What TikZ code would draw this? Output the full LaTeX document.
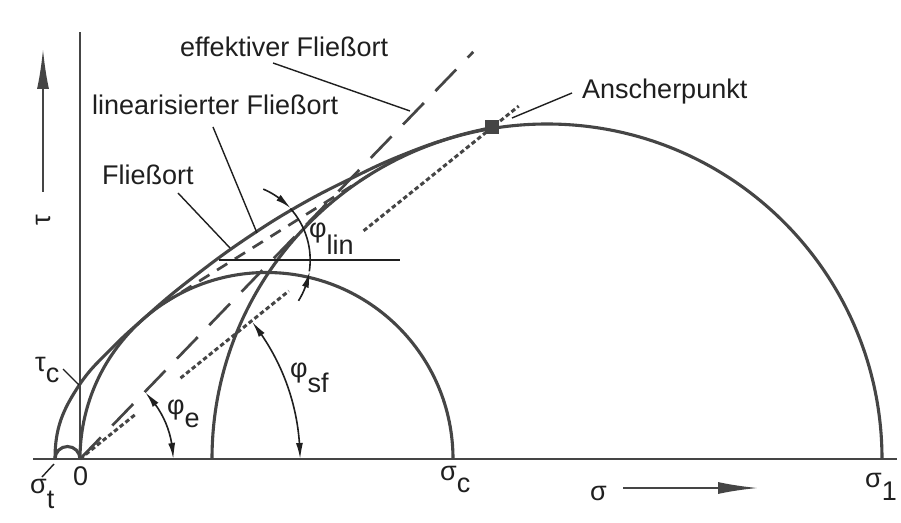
\documentclass[tikz,border=0pt]{standalone}
\usepackage{fontspec}
\setmainfont{Liberation Sans}
\usetikzlibrary{arrows.meta,bending}
\definecolor{ln}{gray}{0.27}
\definecolor{tx}{gray}{0.12}
\begin{document}
\begin{tikzpicture}[x=1pt,y=1pt,
  mainline/.style={draw=ln, line width=3.1pt},
  axisline/.style={draw=ln, line width=2.4pt},
  leader/.style={draw=tx, line width=1.4pt},
  dimarc/.style={draw=tx, line width=1.6pt},
  lbl/.style={inner sep=0pt, anchor=base west, text=tx, font=\fontsize{27}{32}\selectfont},
  effline/.style={draw=ln, line width=2.7pt, dash pattern=on 30pt off 16.5pt},
  linline/.style={draw=ln, line width=2.7pt, dash pattern=on 12pt off 9pt},
  dotline/.style={draw=ln, line width=3pt, dash pattern=on 4.5pt off 2.8pt},
  arctip/.style={-{Latex[length=16pt,width=7pt,bend]}},
  bothtips/.style={{Latex[length=16pt,width=7pt,bend]}-{Latex[length=16pt,width=7pt,bend]}},
  axtip/.style={-{Latex[length=40pt,width=12pt]}}
]
\fill[white] (0,0) rectangle (901,522);
\useasboundingbox (0,0) rectangle (901,522);

% coordinates
\coordinate (O) at (80,63);
\coordinate (st) at (55,63);
\coordinate (hL) at (33,63);
\coordinate (hR) at (897,63);
\coordinate (vT) at (80,490);
\coordinate (tauA) at (43,330);
\coordinate (tauB) at (43,473);
\coordinate (sigA) at (623,34);
\coordinate (sigB) at (758,34);
\coordinate (bl) at (212,63);

% axes
\draw[axisline] (hL) -- (hR);
\draw[axisline] (O) -- (vT);
\draw[ln, line width=2pt, axtip] (tauA) -- (tauB);
\draw[ln, line width=2pt, axtip] (sigA) -- (sigB);

% Mohr circles
\draw[mainline] (st) arc[start angle=180,end angle=0,radius=12.5];
\draw[mainline] (O) arc[start angle=180,end angle=0,radius=186.5];
\draw[mainline] (bl) arc[start angle=180,end angle=0,radius=335];

% Fliessort
\coordinate (P0) at (55,63);
\coordinate (P1) at (80,138);
\coordinate (P2) at (112,174);
\coordinate (P3) at (150,209);
\coordinate (P4) at (200,250);
\coordinate (P5) at (250,286);
\coordinate (P6) at (300,317);
\coordinate (P7) at (350,343);
\coordinate (P8) at (400,366);
\coordinate (P9) at (450,384);
\coordinate (P10) at (492,394.5);
\draw[mainline] (P0) to[out=90,in=236] (P1)
  to[out=56,in=225.5] (P2) to[out=45.5,in=221.8] (P3)
  to[out=41.8,in=217.6] (P4) to[out=37.6,in=213.8] (P5)
  to[out=33.8,in=209.6] (P6) to[out=29.6,in=206] (P7)
  to[out=26,in=202] (P8) to[out=22,in=197] (P9) to[out=17,in=192] (P10);

% effektiver Fliessort
\coordinate (E) at (473.2,470.1);
\draw[effline] (O) -- (E);

% line through Anscherpunkt (dotted)
\coordinate (D1) at (135.3,107.5);
\coordinate (D2) at (180.5,143.9);
\coordinate (D3) at (288.8,231);
\coordinate (D4) at (363.6,291.2);
\coordinate (D5) at (518.7,415.9);
\draw[dotline] (O) -- (D1);
\draw[dotline] (D2) -- (D3);
\draw[dotline] (D4) -- (D5);

% linearisierter Fliessort
\coordinate (L1) at (163.6,218.6);
\coordinate (L2) at (373,349.3);
\draw[linline] (L1) -- (L2);

% horizontal reference
\coordinate (H1) at (219,262);
\coordinate (H2) at (400,262);
\draw[leader] (H1) -- (H2);

% Anscherpunkt marker
\node[fill=ln, minimum size=14pt, inner sep=0pt] (Ap) at (492,394.5) {};

% angle arcs
\coordinate (eA) at (173,63);
\draw[dimarc, bothtips] (eA) arc[start angle=0,end angle=45.5,radius=93];
\coordinate (sfA) at (300,63);
\draw[dimarc, bothtips] (sfA) arc[start angle=0,end angle=38.5,radius=220];
\coordinate (l1) at (263.3,332.9);
\coordinate (l2) at (290.4,313.5);
\coordinate (l3) at (298.5,221.2);
\draw[dimarc, arctip] (l1) arc[start angle=67,end angle=42,radius=77];
\draw[dimarc] (l2) arc[start angle=42,end angle=-8.5,radius=77];
\draw[dimarc, arctip] (l3) arc[start angle=-32,end angle=-8.5,radius=77];

% labels
\node[lbl] (tEff) at (180,465) {effektiver Fließort};
\node[lbl] (tLin) at (92,407) {linearisierter Fließort};
\node[lbl] (tFl) at (102,337) {Fließort};
\node[lbl] (tAn) at (582,423) {Anscherpunkt};
\node[lbl] (tSig) at (590,22) {σ};
\node[lbl] (tS1) at (865,35) {σ\raisebox{-13pt}{1}};
\node[lbl] (tSc) at (440,42) {σ\raisebox{-12pt}{c}};
\node[lbl] (tZero) at (73,37) {0};
\node[lbl] (tSt) at (30,29) {σ\raisebox{-15pt}{t}};
\node[lbl] (tTc) at (35,150) {τ\raisebox{-11pt}{c}};
\node[lbl] (tPe) at (167,108) {φ\raisebox{-13pt}{e}};
\node[lbl] (tPsf) at (290,144.5) {φ\raisebox{-15pt}{sf}};
\node[lbl] (tPlin) at (309,284) {φ\raisebox{-17pt}{lin}};
\node[lbl, rotate=90, anchor=center] (tTau) at (43,302) {τ};

% leader lines
\coordinate (efA) at (273,459);
\coordinate (efB) at (410,411);
\draw[leader] (efA) -- (efB);
\coordinate (liA) at (213,395);
\coordinate (liB) at (257,289);
\draw[leader] (liA) -- (liB);
\coordinate (flA) at (178,329);
\coordinate (flB) at (230,274);
\draw[leader] (flA) -- (flB);
\coordinate (anA) at (572,429);
\coordinate (anB) at (512,404);
\draw[leader] (anA) -- (anB);
\coordinate (tcA) at (63,153);
\coordinate (tcB) at (79,137);
\draw[leader] (tcA) -- (tcB);
\coordinate (stA) at (42,45);
\coordinate (stB) at (54,58);
\draw[leader] (stA) -- (stB);
\end{tikzpicture}
\end{document}
